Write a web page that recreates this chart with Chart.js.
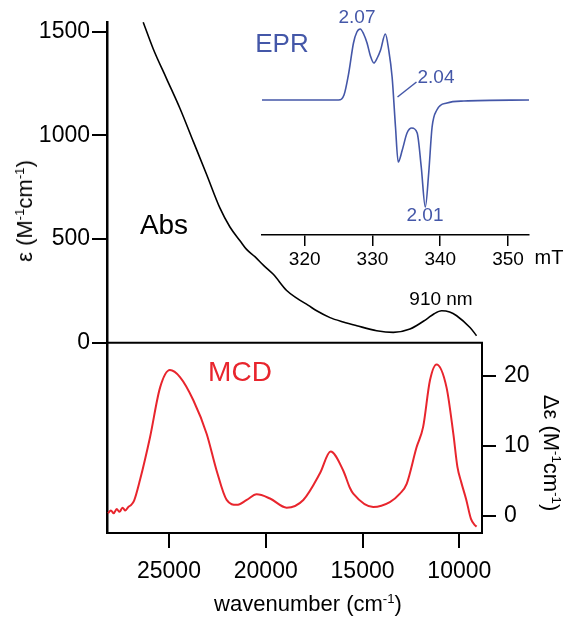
<!DOCTYPE html>
<html>
<head>
<meta charset="utf-8">
<script src="https://cdn.jsdelivr.net/npm/chart.js@4.4.1/dist/chart.umd.min.js"></script>
<style>
  body { margin: 0; background: #fff; }
  #wrap { position: relative; width: 573px; height: 624px; font-family: "Liberation Sans", Arial, sans-serif; }
  canvas { position: absolute; }
  .lbl { position: absolute; white-space: nowrap; transform: translate(-50%, -50%); line-height: 1; }
  .lbl sup { font-size: 0.6em; vertical-align: 0.6em; line-height: 0; }
</style>
</head>
<body>
<div id="wrap">
  <canvas id="main" width="573" height="624" style="left:0;top:0"></canvas>
  <canvas id="epr" width="323" height="290" style="left:250px;top:0"></canvas>

  <div class="lbl" style="left:164px;top:225px;font-size:28px;">Abs</div>
  <div class="lbl" style="left:240px;top:372px;font-size:28px;color:#e8252d;">MCD</div>
  <div class="lbl" style="left:282px;top:43px;font-size:26px;color:#4457a8;">EPR</div>
  <div class="lbl" style="left:357px;top:16px;font-size:19px;color:#4457a8;">2.07</div>
  <div class="lbl" style="left:436px;top:76px;font-size:19px;color:#4457a8;">2.04</div>
  <div class="lbl" style="left:425px;top:214px;font-size:19px;color:#4457a8;">2.01</div>
  <div class="lbl" style="left:441px;top:298px;font-size:19px;">910 nm</div>
  <div class="lbl" style="left:549px;top:257px;font-size:20px;">mT</div>
  <div class="lbl" style="left:308px;top:604px;font-size:22px;">wavenumber (cm<sup>-1</sup>)</div>
  <div class="lbl" style="left:25px;top:211px;font-size:22px;transform:translate(-50%,-50%) rotate(-90deg);">ε (M<sup>-1</sup>cm<sup>-1</sup>)</div>
  <div class="lbl" style="left:551px;top:453px;font-size:22px;transform:translate(-50%,-50%) rotate(90deg);">Δε (M<sup>-1</sup>cm<sup>-1</sup>)</div>
  <svg width="573" height="624" style="position:absolute;left:0;top:0;pointer-events:none">
    <line x1="397.5" y1="97" x2="416.5" y2="82" stroke="#4457a8" stroke-width="1.5"/>
  </svg>
</div>

<script>
// absorption, epsilon (M-1 cm-1) vs wavenumber (cm-1)
const absWavenumber = [26330, 25810, 25120, 24430, 23740, 23050, 22370, 21850, 21300, 20990, 20560, 20100, 19610, 18920, 18400, 17800, 17370, 16680, 16000, 15300, 14270, 13410, 12550, 11690, 11300, 10910, 10500, 10140, 9450, 9110]
const absEpsilon = [1546, 1417, 1273, 1130, 970, 810, 650, 558, 488, 450, 415, 372, 330, 252, 215, 180, 154, 121, 100, 82, 58, 50, 66, 114, 140, 154, 148, 130, 73, 34]

// MCD, delta epsilon vs wavenumber
const mcdWavenumber = [28150, 28000, 27850, 27700, 27550, 27400, 27250, 27100, 26950, 26800, 26500, 25980, 25460, 24950, 24430, 23740, 23050, 22540, 22020, 21500, 20980, 20470, 19780, 18920, 18060, 17200, 16650, 16000, 15650, 15480, 14450, 13590, 13070, 12720, 12210, 11870, 11520, 11180, 10660, 10310, 10100, 9900, 9650, 9400, 9200, 9110]
const mcdDelta = [0.4, 0.8, 0.4, 1.0, 0.6, 1.2, 0.8, 1.3, 1.6, 2.2, 5.1, 11.2, 18.3, 20.8, 19.8, 16.5, 11.7, 6.5, 2.3, 1.6, 2.3, 3.1, 2.5, 1.2, 2.3, 6.1, 9.2, 6.5, 4.0, 3.2, 1.3, 2.0, 3.2, 4.6, 9.8, 12.7, 19.3, 21.6, 18.3, 11.7, 7.0, 4.8, 2.4, -0.4, -1.3, -1.5]

// EPR derivative spectrum, field (mT) vs signal (arb.)
const eprField = [313.7, 325.0, 325.8, 326.5, 327.2, 327.7, 328.2, 328.7, 329.2, 329.7, 330.2, 330.7, 331.2, 331.9, 332.4, 332.9, 333.4, 333.8, 334.4, 335.1, 335.8, 336.6, 337.2, 337.8, 338.3, 338.8, 339.5, 341.0, 343.5, 353.1]
const eprSignal = [0, 0, 5, 27, 57, 68, 71, 66, 57, 44, 37, 42, 50, 66, 50, 23, -27, -62, -50, -33, -28, -33, -67, -107, -73, -27, -10, -3, -1, 0]

const wnTicks = [25000, 20000, 15000, 10000]
const absTicks = [0, 500, 1000, 1500]
const mcdTicks = [0, 10, 20]
const eprTicks = [320, 330, 340, 350]

const font = '"Liberation Sans", Arial, sans-serif'
const black = '#000'
const red = '#e8252d'
const blue = '#4457a8'

const pts = (xs, ys) => xs.map((x, i) => ({x: x, y: ys[i]}))
const fixTicks = list => s => { s.ticks = list.map(v => ({value: v})) }
const plain = v => String(v)

// box lines that chart.js doesn't draw itself
const framePlugin = {
  id: 'frame',
  afterDraw(chart) {
    const ctx = chart.ctx
    const area = chart.chartArea
    const y0 = chart.scales.yAbs.getPixelForValue(0)
    ctx.save()
    ctx.strokeStyle = black
    ctx.lineWidth = 2
    ctx.beginPath()
    ctx.moveTo(area.left, y0)
    ctx.lineTo(area.right, y0)
    ctx.moveTo(area.right, y0 - 1)
    ctx.lineTo(area.right, area.bottom + 1)
    ctx.stroke()
    ctx.restore()
  }
}

new Chart(document.getElementById('main'), {
  type: 'line',
  data: {
    datasets: [
      {data: pts(absWavenumber, absEpsilon), yAxisID: 'yAbs', borderColor: black, borderWidth: 1.6, pointRadius: 0, cubicInterpolationMode: 'monotone'},
      {data: pts(mcdWavenumber, mcdDelta), yAxisID: 'yMcd', borderColor: red, borderWidth: 2, pointRadius: 0, cubicInterpolationMode: 'monotone'}
    ]
  },
  options: {
    responsive: false,
    animation: false,
    devicePixelRatio: 1,
    layout: {padding: {top: 20}},
    plugins: {legend: {display: false}, tooltip: {enabled: false}},
    scales: {
      x: {
        type: 'linear', reverse: true, min: 8830, max: 28200,
        afterBuildTicks: fixTicks(wnTicks),
        afterFit: s => { s.height = 91 },
        grid: {drawOnChartArea: false, tickLength: 15, color: black, lineWidth: 2},
        border: {color: black, width: 2},
        ticks: {color: black, font: {size: 23, family: font}, padding: 10, maxRotation: 0, autoSkip: false, callback: plain}
      },
      yAbs: {
        type: 'linear', position: 'left', min: -918, max: 1548,
        afterBuildTicks: fixTicks(absTicks),
        afterFit: s => { s.width = 107 },
        grid: {drawOnChartArea: false, tickLength: 15, color: black, lineWidth: 2},
        border: {color: black, width: 2.5},
        ticks: {color: black, font: {size: 23, family: font}, padding: 2, autoSkip: false, callback: plain}
      },
      yMcd: {
        type: 'linear', position: 'right', min: -2.41, max: 70.4,
        afterBuildTicks: fixTicks(mcdTicks),
        afterFit: s => { s.width = 91 },
        grid: {drawOnChartArea: false, tickLength: 14, color: black, lineWidth: 2},
        border: {display: false},
        ticks: {color: black, font: {size: 23, family: font}, padding: 8, autoSkip: false, callback: plain}
      }
    }
  },
  plugins: [framePlugin]
})

new Chart(document.getElementById('epr'), {
  type: 'line',
  data: {
    datasets: [
      {data: pts(eprField, eprSignal), borderColor: blue, borderWidth: 1.6, pointRadius: 0, cubicInterpolationMode: 'monotone'}
    ]
  },
  options: {
    responsive: false,
    animation: false,
    devicePixelRatio: 1,
    layout: {padding: {top: 10, left: 12, right: 44}},
    plugins: {legend: {display: false}, tooltip: {enabled: false}},
    scales: {
      x: {
        type: 'linear', min: 313.7, max: 353.1,
        afterBuildTicks: fixTicks(eprTicks),
        afterFit: s => { s.height = 55 },
        grid: {drawOnChartArea: false, tickLength: 11, color: black, lineWidth: 1.5},
        border: {color: black, width: 1.5},
        ticks: {color: black, font: {size: 19, family: font}, padding: 2, maxRotation: 0, autoSkip: false, callback: plain}
      },
      y: {display: false, min: -135, max: 90}
    }
  }
})
</script>
</body>
</html>
